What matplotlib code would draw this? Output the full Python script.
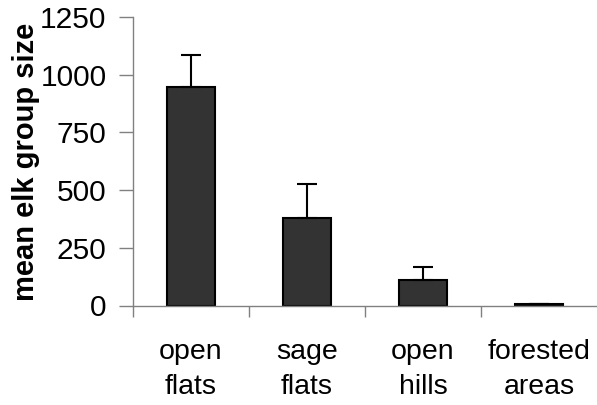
import matplotlib
matplotlib.use("Agg")
import matplotlib.pyplot as plt
import numpy as np

# habitat categories and mean elk group size (+ SE, upper only)
categories = ["open\nflats", "sage\nflats", "open\nhills", "forested\nareas"]
mean_size = [945, 381, 112, 8]
std_err = [139, 146, 54, 0]

plt.rcParams["font.family"] = ["Liberation Sans", "DejaVu Sans"]

fig = plt.figure(figsize=(5.97, 4.05), dpi=100)
ax = fig.add_axes([133 / 597, 1 - 305.5 / 405, 1 - 133 / 597, (305.5 - 17) / 405])

x = np.arange(len(categories)) + 0.5
ax.bar(x, mean_size, width=0.41, color="#333333", edgecolor="black", linewidth=1.5, zorder=2)
ax.errorbar(x, mean_size, yerr=[np.zeros(len(std_err)), std_err], fmt="none",
            ecolor="black", elinewidth=1.5, capsize=7.5, capthick=1.5, zorder=3)

ax.set_xlim(0, 4)
ax.set_ylim(0, 1250)
ax.set_yticks([0, 250, 500, 750, 1000, 1250])
ax.set_xticks(x)
ax.set_xticklabels(categories, fontsize=20.5, linespacing=1.45)
ax.set_xticks([0, 1, 2, 3], minor=True)
ax.tick_params(axis="x", which="major", length=0, pad=24)
ax.tick_params(axis="x", which="minor", length=8, width=1, color="#808080", direction="out")
ax.tick_params(axis="y", length=10, width=1, color="#808080", direction="out", labelsize=21.5, pad=9)

for side in ["top", "right"]:
    ax.spines[side].set_visible(False)
for side in ["left", "bottom"]:
    ax.spines[side].set_color("#808080")
    ax.spines[side].set_linewidth(1)

fig.text(0.044, 1 - 162 / 405, "mean elk group size", rotation=90, fontsize=21,
         fontweight="bold", ha="center", va="center")

fig.savefig("out.png", dpi=100)
